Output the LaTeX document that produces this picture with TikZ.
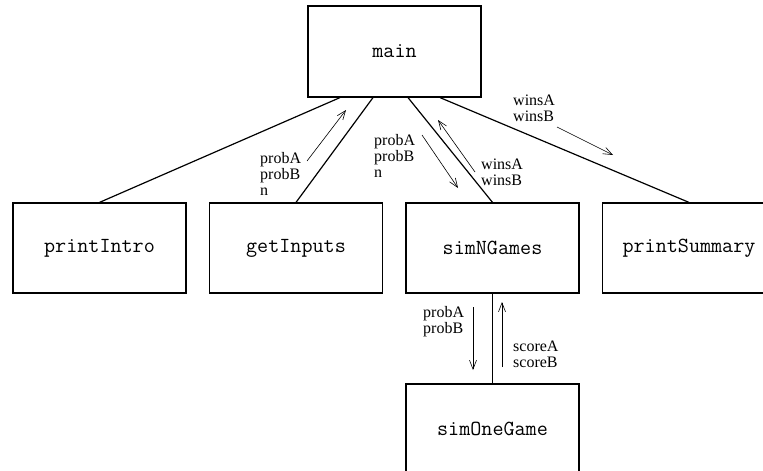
\documentclass[tikz,border=0pt]{standalone}
\usepackage{fontspec}
\setmainfont{Liberation Serif}
\usepackage{tikz}
\usetikzlibrary{arrows.meta}

\tikzset{
  modbox/.style={draw,line width=1.2pt,minimum width=173pt,minimum height=90pt,
    inner sep=0pt,font=\ttfamily\fontsize{21.5}{22}\selectfont},
  callline/.style={line width=1.2pt},
  flowarrow/.style={line width=0.6pt,-{Straight Barb[length=9pt,width=7pt]}},
  flowlabel/.style={anchor=north west,inner sep=0pt,align=left,
    font=\fontsize{16}{16}\selectfont}
}

\begin{document}
\begin{tikzpicture}[x=1pt,y=-1pt]
\useasboundingbox (0,0) rectangle (763,471);
% boxes
\node [modbox,minimum height=91pt] (main) at (394.5,51.5) {main};
\node [modbox] (printIntro) at (99.5,248) {printIntro};
\node [modbox] (getInputs) at (296,248) {getInputs};
\node [modbox] (simNGames) at (492.5,248) {simNGames};
\node [modbox] (printSummary) at (689,248) {printSummary};
\node [modbox] (simOneGame) at (492.5,429) {simOneGame};
% calls
\draw [callline] ([xshift=-54.5pt]main.south)--(printIntro.north);
\draw [callline] ([xshift=-21.5pt]main.south)--(getInputs.north);
\draw [callline] ([xshift=13.5pt]main.south)--(simNGames.north);
\draw [callline] ([xshift=45.5pt]main.south)--(printSummary.north);
\draw [callline] (simNGames.south)--(simOneGame.north);
% data flow
\coordinate (giA) at (307,161); \coordinate (giB) at (346,110);
\coordinate (snA) at (422,135); \coordinate (snB) at (458,188);
\coordinate (snC) at (475,172); \coordinate (snD) at (438,120);
\coordinate (psA) at (557,127); \coordinate (psB) at (613,155);
\coordinate (soA) at (473,307); \coordinate (soB) at (473,370);
\coordinate (soC) at (502,367); \coordinate (soD) at (502,302);
\draw [flowarrow] (giA)--(giB);
\draw [flowarrow] (snA)--(snB);
\draw [flowarrow] (snC)--(snD);
\draw [flowarrow] (psA)--(psB);
\draw [flowarrow] (soA)--(soB);
\draw [flowarrow] (soC)--(soD);
\node [flowlabel] (giIn) at (260,152) {probA\\probB\\n};
\node [flowlabel] (snIn) at (374,134) {probA\\probB\\n};
\node [flowlabel] (snOut) at (481,159) {winsA\\winsB};
\node [flowlabel] (psIn) at (513,95) {winsA\\winsB};
\node [flowlabel] (soIn) at (423,306) {probA\\probB};
\node [flowlabel] (soOut) at (513,341) {scoreA\\scoreB};
\end{tikzpicture}
\end{document}
